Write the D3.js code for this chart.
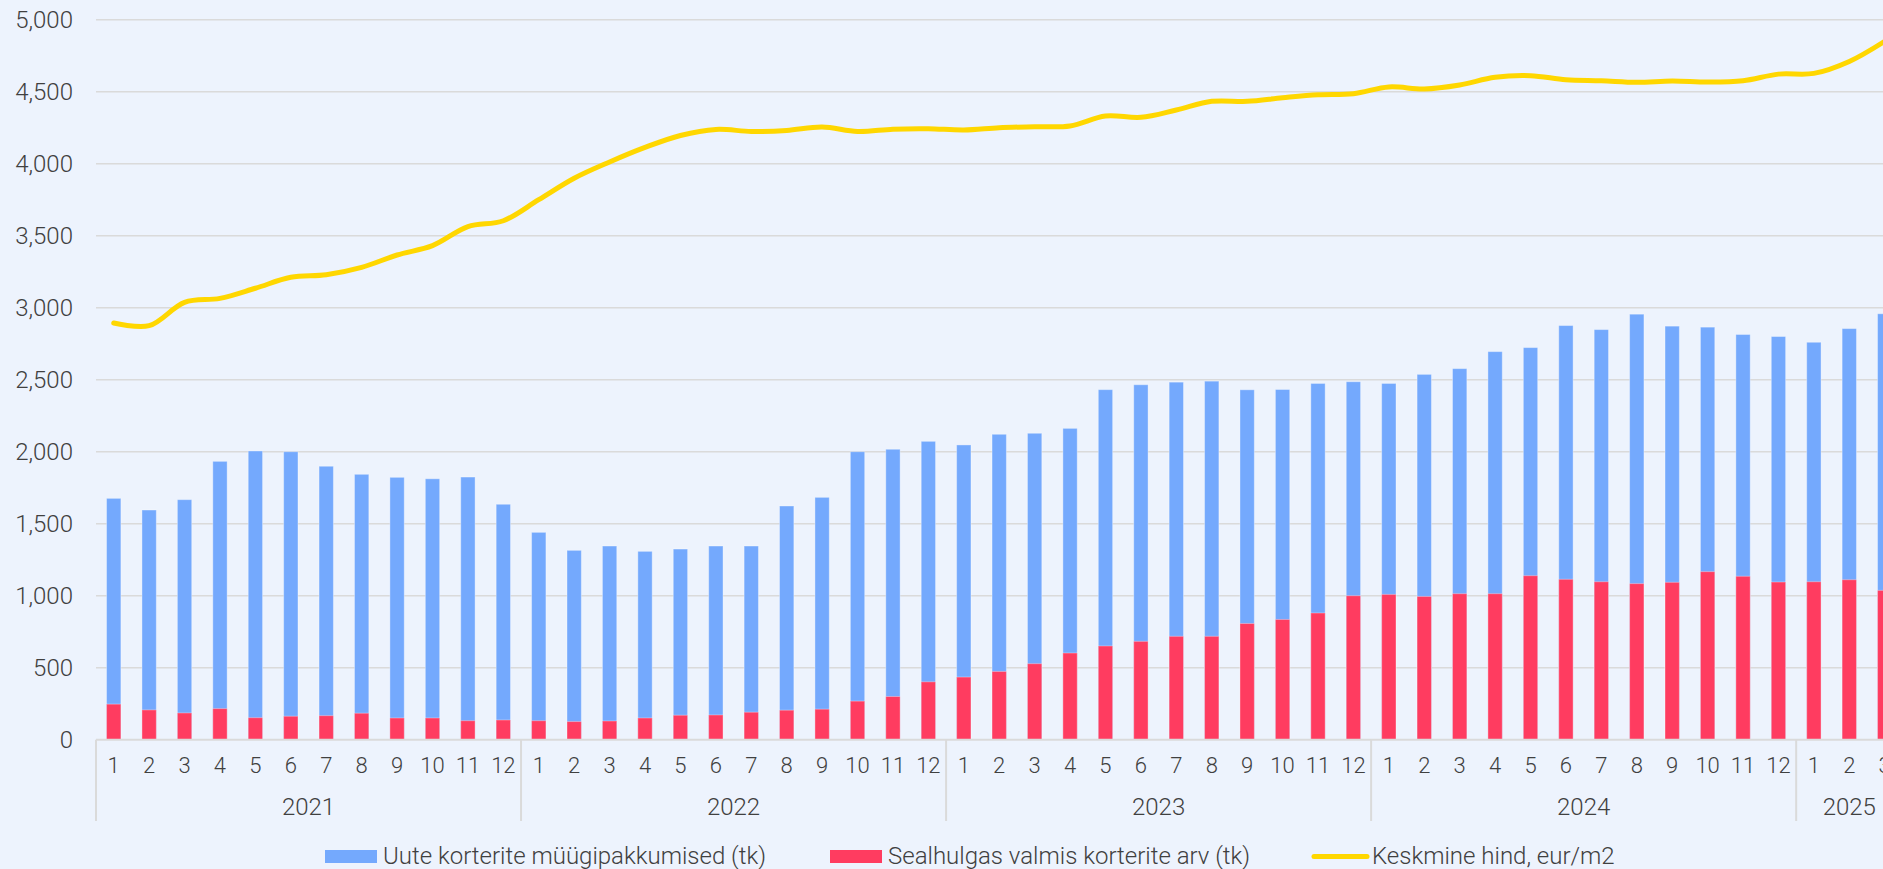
<!DOCTYPE html>
<html>
<head>
<meta charset="utf-8">
<script src="https://cdn.jsdelivr.net/npm/d3@7"></script>
<style>
  html, body { margin: 0; padding: 0; background: #EDF3FD; }
  svg { display: block; }
  text { font-family: Roboto, "Open Sans", sans-serif; font-weight: 300; fill: #404040; }
</style>
</head>
<body>
<svg id="bg" width="1883" height="869"></svg>
<script>
// kategooriad
var years = ['2021', '2022', '2023', '2024', '2025'];
var monthsPerYear = [12, 12, 12, 12, 3];
var months = [
  '1','2','3','4','5','6','7','8','9','10','11','12',
  '1','2','3','4','5','6','7','8','9','10','11','12',
  '1','2','3','4','5','6','7','8','9','10','11','12',
  '1','2','3','4','5','6','7','8','9','10','11','12',
  '1','2','3'
];

// Uute korterite müügipakkumised (tk)
var offers = [
  1676, 1595, 1667, 1933, 2005, 2000, 1899, 1843, 1822, 1812, 1824, 1635,
  1440, 1315, 1345, 1308, 1324, 1345, 1345, 1623, 1683, 2000, 2017, 2072,
  2047, 2121, 2128, 2162, 2431, 2465, 2483, 2490, 2430, 2432, 2474, 2486,
  2474, 2537, 2577, 2695, 2723, 2876, 2848, 2955, 2872, 2865, 2814, 2800,
  2760, 2855, 2958
];

// Sealhulgas valmis korterite arv (tk)
var completed = [
  247, 207, 186, 216, 153, 163, 167, 184, 151, 151, 132, 137,
  132, 126, 130, 151, 170, 172, 191, 205, 212, 268, 300, 402,
  435, 474, 528, 602, 651, 683, 718, 718, 807, 835, 880, 1000,
  1009, 995, 1014, 1014, 1139, 1114, 1097, 1084, 1093, 1167, 1135, 1095,
  1097, 1111, 1037
];

// Keskmine hind, eur/m2
var price = [
  2894, 2875, 3037, 3065, 3135, 3211, 3229, 3280, 3366, 3431, 3563, 3604,
  3750, 3899, 4012, 4113, 4196, 4238, 4224, 4231, 4255, 4224, 4240, 4243,
  4234, 4250, 4257, 4262, 4331, 4322, 4373, 4433, 4433, 4458, 4479, 4486,
  4533, 4519, 4547, 4600, 4611, 4583, 4576, 4565, 4574, 4567, 4576, 4622,
  4627, 4710, 4850
];

var yTicks = [0, 500, 1000, 1500, 2000, 2500, 3000, 3500, 4000, 4500, 5000];

var legendItems = [
  { name: 'Uute korterite müügipakkumised (tk)', type: 'bar', color: '#74A9FD' },
  { name: 'Sealhulgas valmis korterite arv (tk)', type: 'bar', color: '#FF3C60' },
  { name: 'Keskmine hind, eur/m2', type: 'line', color: '#FFD700' }
];

var step = 35.42;
var left = 96;

var xScale = d3.scaleBand()
  .domain(d3.range(months.length))
  .range([left, left + step * months.length])
  .paddingInner(0.595)
  .paddingOuter(0.2975);

var heightScale = d3.scaleLinear()
  .domain([0, 5000])
  .range([739.7, 19.7]);

var svg = d3.select('#bg');
var gridColor = '#DADADA';

// taustajooned
svg.append('g')
  .selectAll('line')
  .data(yTicks.slice(1))
  .join('line')
  .attr('x1', left)
  .attr('x2', 1883)
  .attr('y1', d => heightScale(d))
  .attr('y2', d => heightScale(d))
  .attr('stroke', gridColor)
  .attr('stroke-width', 1.5);

// y telg
var yAxis = svg.append('g')
  .attr('transform', 'translate(' + left + ',0)')
  .call(d3.axisLeft(heightScale).tickValues(yTicks).tickSize(0).tickPadding(23).tickFormat(d3.format(',')));
yAxis.select('.domain').remove();
yAxis.selectAll('text')
  .attr('font-size', '24px')
  .attr('font-family', null)
  .attr('fill', null);

// tulbad
svg.append('g')
  .selectAll('rect')
  .data(offers)
  .join('rect')
  .attr('x', (d, i) => xScale(i))
  .attr('width', xScale.bandwidth())
  .attr('y', d => heightScale(d))
  .attr('height', d => heightScale(0) - heightScale(d))
  .attr('fill', '#74A9FD')
  .attr('stroke', 'rgba(255,255,255,0.35)')
  .attr('stroke-width', 1);

svg.append('g')
  .selectAll('rect')
  .data(completed)
  .join('rect')
  .attr('x', (d, i) => xScale(i))
  .attr('width', xScale.bandwidth())
  .attr('y', d => heightScale(d))
  .attr('height', d => heightScale(0) - heightScale(d))
  .attr('fill', '#FF3C60')
  .attr('stroke', 'rgba(255,255,255,0.35)')
  .attr('stroke-width', 1);

// x telg
svg.append('line')
  .attr('x1', left)
  .attr('x2', 1883)
  .attr('y1', heightScale(0))
  .attr('y2', heightScale(0))
  .attr('stroke', gridColor)
  .attr('stroke-width', 2);

svg.append('g')
  .selectAll('text')
  .data(months)
  .join('text')
  .text(d => d)
  .attr('x', (d, i) => xScale(i) + xScale.bandwidth() / 2)
  .attr('y', 772.7)
  .attr('text-anchor', 'middle')
  .attr('font-size', '22px');

// aastad
var yearStart = [];
var acc = 0;
for (var i = 0; i < years.length; i++) {
  yearStart.push(acc);
  acc += monthsPerYear[i];
}

svg.append('g')
  .selectAll('line')
  .data(yearStart)
  .join('line')
  .attr('x1', d => xScale(d) - xScale.step() * xScale.paddingOuter())
  .attr('x2', d => xScale(d) - xScale.step() * xScale.paddingOuter())
  .attr('y1', heightScale(0))
  .attr('y2', 821)
  .attr('stroke', gridColor)
  .attr('stroke-width', 2);

svg.append('g')
  .selectAll('text')
  .data(years)
  .join('text')
  .text(d => d)
  .attr('x', (d, i) => {
    var a = xScale(yearStart[i]);
    var b = xScale(yearStart[i] + monthsPerYear[i] - 1) + xScale.bandwidth();
    return (a + b) / 2;
  })
  .attr('y', 815)
  .attr('text-anchor', 'middle')
  .attr('font-size', '24px');

// hinna joon
svg.append('path')
  .datum(price)
  .attr('fill', 'none')
  .attr('stroke', '#FFD700')
  .attr('stroke-width', 5)
  .attr('stroke-linecap', 'round')
  .attr('d', d3.line()
    .curve(d3.curveCatmullRom.alpha(0.5))
    .x((d, i) => xScale(i) + xScale.bandwidth() / 2)
    .y(d => heightScale(d))
  );

// legend
var legendX = [325, 830, 1312];
var legend = svg.append('g')
  .selectAll('g')
  .data(legendItems)
  .join('g')
  .attr('transform', (d, i) => 'translate(' + legendX[i] + ',856.5)');

legend.filter(d => d.type == 'bar')
  .append('rect')
  .attr('x', 0)
  .attr('y', -6.5)
  .attr('width', 52)
  .attr('height', 13)
  .attr('fill', d => d.color);

legend.filter(d => d.type == 'line')
  .append('line')
  .attr('x1', 2)
  .attr('x2', 55)
  .attr('stroke', d => d.color)
  .attr('stroke-width', 5)
  .attr('stroke-linecap', 'round');

legend.append('text')
  .text(d => d.name)
  .attr('x', d => d.type == 'bar' ? 58 : 60)
  .attr('y', 7)
  .attr('font-size', '24px');
</script>
</body>
</html>
